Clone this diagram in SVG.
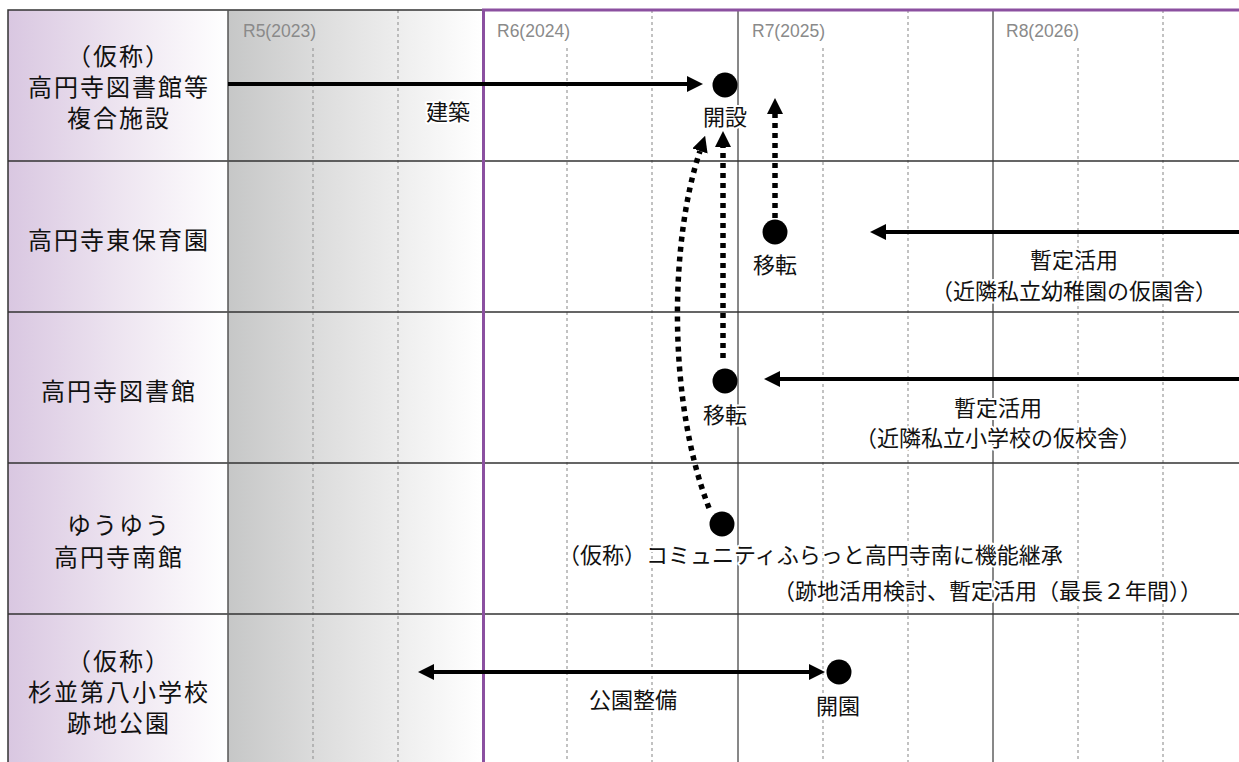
<svg xmlns="http://www.w3.org/2000/svg" width="1239" height="762" viewBox="0 0 1239 762">
<style>
.lbl{font-family:"Noto Sans CJK JP","Noto Sans",sans-serif;font-size:24px;letter-spacing:2px;fill:#111;text-anchor:middle}
.t{font-family:"Noto Sans CJK JP","Noto Sans",sans-serif;font-size:22px;fill:#111}
.halo{paint-order:stroke;stroke:#fff;stroke-width:4px;stroke-linejoin:round}
.yr{font-family:"Liberation Sans",Arial,sans-serif;font-size:17.5px;fill:#8a8a8a}
.dash{stroke:#9a9a9a;stroke-width:1.2;stroke-dasharray:3 3;fill:none}
.row{stroke:#333;stroke-width:1.5;fill:none}
.year{stroke:#111;stroke-width:1;fill:none}
.solid{stroke:#000;stroke-width:4;fill:none}
.dot{stroke:#000;stroke-width:5.5;stroke-dasharray:5 5;fill:none}
.ms{fill:#000}
</style>
<defs>
<linearGradient id="gL" x1="0" y1="0" x2="1" y2="0">
<stop offset="0" stop-color="#d9c7e1"/>
<stop offset="0.5" stop-color="#ede4f0"/>
<stop offset="1" stop-color="#ffffff"/>
</linearGradient>
<linearGradient id="gR5" x1="0" y1="0" x2="1" y2="0">
<stop offset="0" stop-color="#c6c7c7"/>
<stop offset="0.4" stop-color="#dfdfdf"/>
<stop offset="1" stop-color="#ffffff"/>
</linearGradient>
<marker id="ah" viewBox="0 0 16 16" refX="0" refY="8" markerWidth="16" markerHeight="16" markerUnits="userSpaceOnUse" orient="auto-start-reverse">
<path d="M0,0 L16,8 L0,16 z" fill="#000"/>
</marker>
</defs>

<g id="background">
<rect x="8" y="10" width="220" height="760" fill="url(#gL)"/>
<rect x="228" y="10" width="254" height="760" fill="url(#gR5)"/>
<rect x="482" y="10" width="760" height="760" fill="#fff"/>
</g>

<g id="grid">
<path class="dash" d="M313,48V762 M567,48V762 M823,48V762 M1078,48V762"/>
<path class="dash" d="M398,10V762 M652,10V762 M908,10V762 M1163,10V762"/>
<path class="year" d="M738,10V762 M993,10V762"/>
<path class="row" d="M8,161H1239 M8,312H1239 M8,463H1239 M8,614H1239"/>
<path class="row" d="M8,770V10H483"/>
<path d="M228,10V762" stroke="#555" stroke-width="1.5" fill="none"/>
<path d="M483.5,770V10H1245" stroke="#8b50a0" stroke-width="3" fill="none"/>
<text class="yr" x="243" y="37">R5(2023)</text>
<text class="yr" x="497" y="37">R6(2024)</text>
<text class="yr" x="752" y="37">R7(2025)</text>
<text class="yr" x="1006" y="37">R8(2026)</text>
</g>

<g id="row-labels">
<g id="label-complex">
<text class="lbl" x="119" y="65">（仮称）</text>
<text class="lbl" x="119" y="96">高円寺図書館等</text>
<text class="lbl" x="119" y="127">複合施設</text>
</g>
<g id="label-nursery"><text class="lbl" x="119" y="249">高円寺東保育園</text></g>
<g id="label-library"><text class="lbl" x="119" y="400">高円寺図書館</text></g>
<g id="label-yuyu">
<text class="lbl" x="119" y="534">ゆうゆう</text>
<text class="lbl" x="119" y="566">高円寺南館</text>
</g>
<g id="label-park">
<text class="lbl" x="119" y="670">（仮称）</text>
<text class="lbl" x="119" y="701">杉並第八小学校</text>
<text class="lbl" x="119" y="732">跡地公園</text>
</g>
</g>

<g id="connectors">
<path class="solid" d="M228,84H687" marker-end="url(#ah)"/>
<path class="solid" d="M1245,232H886" marker-end="url(#ah)"/>
<path class="solid" d="M1245,379H780" marker-end="url(#ah)"/>
<path class="solid" d="M434,672H809" marker-start="url(#ah)" marker-end="url(#ah)"/>
<path class="dot" d="M775,218V114" marker-end="url(#ah)"/>
<path class="dot" d="M723,358V147" marker-end="url(#ah)"/>
<path class="dot" d="M709,508C667,400 670,240 700,151" marker-end="url(#ah)"/>
</g>

<g id="milestones">
<g id="ms-open"><circle class="ms" cx="725" cy="85" r="12.5"/><text class="t halo" x="725" y="125" text-anchor="middle">開設</text></g>
<g id="ms-build"><text class="t halo" x="448" y="120" text-anchor="middle">建築</text></g>
<g id="ms-nursery"><circle class="ms" cx="775" cy="232" r="12.5"/><text class="t halo" x="775" y="273" text-anchor="middle">移転</text></g>
<g id="ms-library"><circle class="ms" cx="725" cy="381" r="12.5"/><text class="t halo" x="725" y="423" text-anchor="middle">移転</text></g>
<g id="ms-yuyu"><circle class="ms" cx="722" cy="524" r="12.5"/></g>
<g id="ms-park"><circle class="ms" cx="839" cy="672" r="12.5"/><text class="t halo" x="838" y="714" text-anchor="middle">開園</text></g>
<g id="note-park"><text class="t halo" x="633" y="708" text-anchor="middle">公園整備</text></g>
<g id="note-nursery">
<text class="t halo" x="1074" y="268" text-anchor="middle">暫定活用</text>
<text class="t halo" x="1074" y="299" text-anchor="middle">（近隣私立幼稚園の仮園舎）</text>
</g>
<g id="note-library">
<text class="t halo" x="998" y="416" text-anchor="middle">暫定活用</text>
<text class="t halo" x="998" y="446" text-anchor="middle">（近隣私立小学校の仮校舎）</text>
</g>
<g id="note-yuyu">
<text class="t halo" x="558" y="563">（仮称）コミュニティふらっと高円寺南に機能継承</text>
<text class="t halo" x="773" y="599">（跡地活用検討、暫定活用（最長２年間））</text>
</g>
</g>
</svg>
